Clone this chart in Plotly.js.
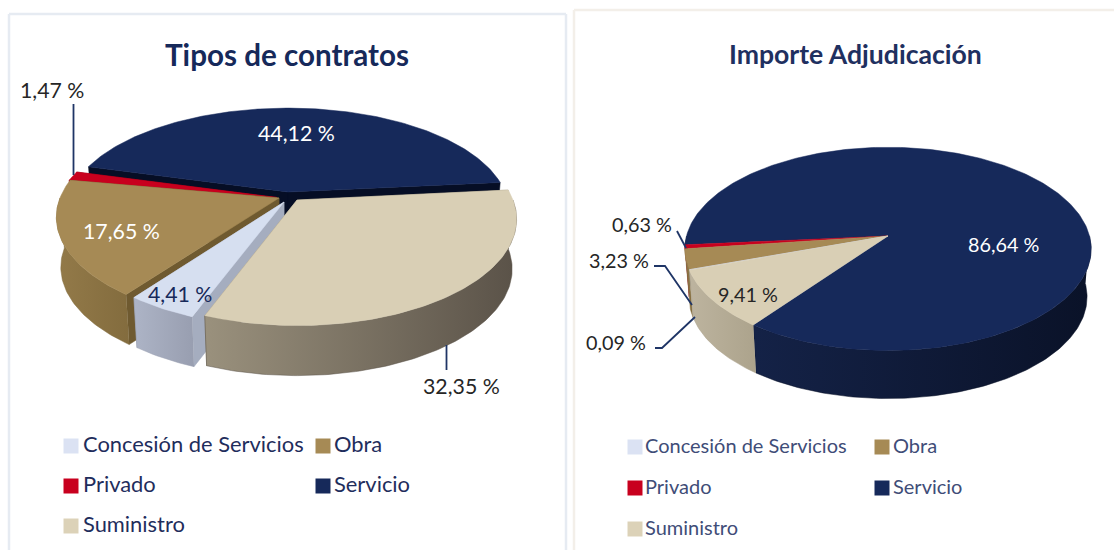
<!DOCTYPE html>
<html><head><meta charset="utf-8">
<script src="https://cdn.plot.ly/plotly-3.0.1.min.js"></script>
<style>html,body{margin:0;padding:0;background:#fff;overflow:hidden}</style>
</head><body><div id="chart" style="width:1114px;height:550px"></div>
<script>
// ---- data ----
const categories = ["Concesión de Servicios", "Obra", "Privado", "Servicio", "Suministro"];
const contractShares = [4.41, 17.65, 1.47, 44.12, 32.35];
const awardShares = [0.09, 3.23, 0.63, 86.64, 9.41];
const contractLabels = ["4,41 %", "17,65 %", "1,47 %", "44,12 %", "32,35 %"];
const awardLabels = ["0,09 %", "3,23 %", "0,63 %", "86,64 %", "9,41 %"];
const chartTitles = ["Tipos de contratos", "Importe Adjudicación"];

// ---- styles ----
const FONT = "Lato, 'Noto Sans', sans-serif";
const NAVY = "#16295a", LEADER = "#1f3566";
const topColors = ["#d6dff0", "#a68a55", "#c8001e", "#16295a", "#d9cfb5"];
const legendColors = ["#dbe2f3", "#a68a55", "#c8001e", "#16295a", "#dcd2b8"];
const faceColors = ["#a5adbf", "#6f5a30", "#8a0016", "#060e25", "#8f8773"];
const leftWalls = [["#adb4c6", "#989eb0"], ["#937a49", "#836c3e"], ["#8a0016", "#8a0016"], ["#060e25", "#060e25"], ["#9a917d", "#5a5248"]];
const rightWalls = [["#c0b79f", "#b0a78f"], ["#8f7746", "#836c3e"], ["#a00018", "#a00018"], ["#142247", "#0a1228"], ["#bdb49f", "#aca38c"]];

// ---- projection settings for each pie ----
const leftPie = {
  start: 200.8, depth: 50, p: 0.18, faces: true, walls: leftWalls, floor: 0.98,
  order: [3, 2, 1, 0, 4],
  geom: [
    {cx: 284, cy: 202, a: 215, b: 102},
    {cx: 279, cy: 198, a: 219, b: 103},
    {cx: 277, cy: 197.5, a: 218, b: 100},
    {cx: 288, cy: 192, a: 217, b: 99},
    {cx: 297, cy: 200, a: 216, b: 103}
  ]
};
const C2 = {cx: 888, cy: 236, a: 201.5, b: 100};
const rightPie = {
  start: 250.8, depth: 48, p: 0.127, faces: false, walls: rightWalls, floor: 0.98,
  order: [3, 2, 1, 0, 4],
  geom: [C2, C2, C2, C2, C2]
};

function project(g, p, deg, drop, floor) {
  const t = deg * Math.PI / 180, u = Math.sin(t), v = Math.cos(t), s = 1 / (1 + p * v);
  const k = drop ? floor : 1;
  return [g.cx + g.a * k * u * s, g.cy - g.b * v * s + (drop || 0)];
}
function poly(pts, color, gradient) {
  const tr = {
    type: "scatter", mode: "lines", x: pts.map(q => q[0]), y: pts.map(q => q[1]),
    fill: "toself", fillcolor: color, line: {width: 0.5, color: color},
    hoverinfo: "skip", showlegend: false
  };
  if (gradient) {
    tr.fillgradient = {type: "horizontal", colorscale: [[0, gradient[0]], [1, gradient[1]]]};
    tr.line.color = gradient[1];
  }
  return tr;
}
function arc(g, cfg, a0, a1, drop) {
  const pts = [], n = Math.max(2, Math.ceil(Math.abs(a1 - a0)));
  for (let i = 0; i <= n; i++) pts.push(project(g, cfg.p, a0 + (a1 - a0) * i / n, drop, cfg.floor));
  return pts;
}
function pieTraces(values, cfg) {
  const total = values.reduce((s, v) => s + v, 0);
  const spans = []; let a = cfg.start;
  values.forEach(v => { const e = a + v / total * 360; spans.push([a, e]); a = e; });
  const out = [];
  cfg.order.forEach(i => {
    const [a0, a1] = spans[i], g = cfg.geom[i], tip = [g.cx, g.cy], d = cfg.depth;
    if (cfg.faces) {
      [a0, a1].forEach(an => {
        const r = project(g, cfg.p, an, 0), r2 = project(g, cfg.p, an, d, cfg.floor);
        out.push(poly([tip, r, r2, [g.cx, g.cy + d], tip], faceColors[i]));
      });
    }
    // outer wall: the front part of the rim, pushed down by the depth
    const win = [[90, 270], [450, 630]].map(c => [Math.max(c[0], a0), Math.min(c[1], a1)]).filter(c => c[1] > c[0]);
    win.forEach(c => {
      const upper = arc(g, cfg, c[0], c[1], 0), lower = arc(g, cfg, c[1], c[0], d);
      out.push(poly(upper.concat(lower), cfg.walls[i][0], cfg.walls[i]));
    });
    out.push(poly([tip].concat(arc(g, cfg, a0, a1, 0), [tip]), topColors[i]));
  });
  return out;
}
function leader(xs, ys) {
  return {type: "scatter", mode: "lines", x: xs, y: ys, line: {color: LEADER, width: 1.8},
    hoverinfo: "skip", showlegend: false};
}
function legendTraces(swatches, textAt, size, fontSize, color) {
  const marks = categories.map((c, i) => ({
    type: "scatter", mode: "markers", x: [swatches[i][0]], y: [swatches[i][1]],
    marker: {symbol: "square", size: size, color: legendColors[i]},
    hoverinfo: "skip", showlegend: false
  }));
  const words = {
    type: "scatter", mode: "text", x: textAt.map(q => q[0]), y: textAt.map(q => q[1]), text: categories,
    textposition: "middle right", textfont: {family: FONT, size: fontSize, color: color},
    hoverinfo: "skip", showlegend: false
  };
  return marks.concat([words]);
}

// ---- positions of texts and legends ----
const leftLegend = [[71, 446], [323, 446], [71, 486], [323, 486], [71, 526]];
const leftLegendText = [[83, 447], [334, 447], [83, 487], [334, 487], [83, 527]];
const rightLegend = [[635, 447], [882, 447], [635, 488], [882, 488], [635, 529]];
const rightLegendText = [[645, 448], [893, 448], [645, 489], [893, 489], [645, 530]];
const leftLabelPos = [[180, 294, NAVY], [121, 231, "#ffffff"], [52, 90, "#262626"], [296, 133, "#ffffff"], [461, 386, "#262626"]];
const rightLabelPos = [[616, 342, "#262626"], [619, 260, "#262626"], [642, 224, "#262626"], [1003, 244, "#ffffff"], [748, 294, "#262626"]];

const traces = [].concat(
  pieTraces(contractShares, leftPie),
  pieTraces(awardShares, rightPie),
  [leader([73.5, 73.5], [104, 175]), leader([446.5, 446.5], [345, 370]),
   leader([677, 686], [231, 248]), leader([654, 665, 692], [266, 266, 305]), leader([655, 662, 695], [348, 348, 317])],
  legendTraces(leftLegend, leftLegendText, 15, 21.9, "#1f2d5c"),
  legendTraces(rightLegend, rightLegendText, 15, 20, "#3f4d78")
);

function label(text, pos, size) {
  return {text: text, x: pos[0], y: pos[1], xref: "x", yref: "y", showarrow: false,
    xanchor: "center", yanchor: "middle", font: {family: FONT, size: size, color: pos[2]}};
}
const annotations = [
  label("<b>" + chartTitles[0] + "</b>", [287, 54, NAVY], 29.6),
  label("<b>" + chartTitles[1] + "</b>", [855, 54, "#1f3060"], 26.6)
].concat(
  contractLabels.map((t, i) => label(t, leftLabelPos[i], 21.3)),
  awardLabels.map((t, i) => label(t, rightLabelPos[i], 19.8))
);

function seg(x0, y0, x1, y1, color, w) {
  return {type: "line", xref: "x", yref: "y", x0, y0, x1, y1, line: {color, width: w}, layer: "below"};
}
const shapes = [
  seg(9, 14, 566, 14, "#e6ebf2", 2.5), seg(9, 14, 9, 550, "#e6ebf2", 2.5), seg(566, 14, 566, 550, "#e6ebf2", 2.5),
  seg(574, 10, 1114, 10, "#f3efe9", 2.5), seg(574, 10, 574, 550, "#f3efe9", 2.5)
];

Plotly.newPlot("chart", traces, {
  width: 1114, height: 550, autosize: false,
  margin: {l: 0, r: 0, t: 0, b: 0}, paper_bgcolor: "#fff", plot_bgcolor: "#fff",
  xaxis: {range: [0, 1114], visible: false, fixedrange: true},
  yaxis: {range: [550, 0], visible: false, fixedrange: true},
  showlegend: false, annotations, shapes, hovermode: false
}, {displayModeBar: false, staticPlot: true});
</script></body></html>
